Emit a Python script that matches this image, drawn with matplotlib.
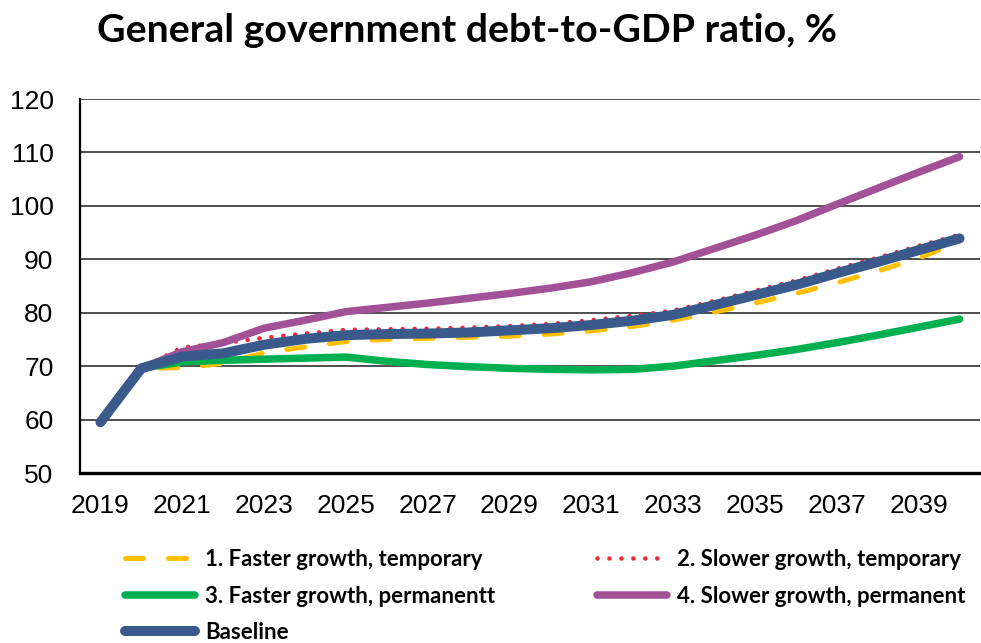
import matplotlib
matplotlib.use("Agg")
import matplotlib.pyplot as plt
import numpy as np

# data
years = list(range(2019, 2041))
faster_temp = [59.5, 69.6, 69.7, 70.5, 72.5, 73.6, 74.6, 75.0, 75.2, 75.4, 75.6,
               76.0, 76.6, 77.4, 78.6, 80.1, 81.8, 83.6, 85.6, 87.8, 90.2, 93.3]
slower_temp = [59.5, 69.6, 73.5, 74.3, 75.3, 76.1, 76.8, 76.9, 77.0, 77.2, 77.5,
               77.9, 78.6, 79.4, 80.4, 82.2, 84.1, 86.0, 88.2, 90.3, 92.5, 94.6]
faster_perm = [59.5, 69.6, 70.8, 71.1, 71.3, 71.5, 71.7, 70.9, 70.3, 69.9, 69.6,
               69.4, 69.3, 69.4, 70.0, 71.0, 72.0, 73.1, 74.4, 75.8, 77.3, 78.8]
slower_perm = [59.5, 69.6, 72.7, 74.4, 77.1, 78.6, 80.2, 81.0, 81.8, 82.7, 83.6,
               84.6, 85.8, 87.5, 89.5, 92.0, 94.5, 97.2, 100.3, 103.3, 106.3, 109.2]
baseline = [59.5, 69.6, 71.8, 72.4, 74.0, 75.1, 75.8, 76.0, 76.1, 76.3, 76.7,
            77.1, 77.7, 78.5, 79.6, 81.4, 83.3, 85.2, 87.4, 89.5, 91.7, 93.9]

labels = ["1. Faster growth, temporary", "2. Slower growth, temporary",
          "3. Faster growth, permanentt", "4. Slower growth, permanent", "Baseline"]

x = np.arange(len(years))

fig = plt.figure(figsize=(9.81, 6.43), dpi=100)
ax = fig.add_axes([80 / 981, 1 - 473 / 643, 900 / 981, 374 / 643])

l1, = ax.plot(x, faster_temp, color="#FFC000", lw=3.6, ls=(0, (3.6, 5)),
              dash_capstyle="round", label=labels[0])
l2, = ax.plot(x, slower_temp, color="#EE2A3C", lw=3.3, ls=(0, (0.01, 2.6)),
              dash_capstyle="round", label=labels[1])
l3, = ax.plot(x, faster_perm, color="#00B050", lw=5.4, solid_capstyle="round",
              label=labels[2])
l4, = ax.plot(x, slower_perm, color="#A35197", lw=5.4, solid_capstyle="round",
              label=labels[3])
lb, = ax.plot(x, baseline, color="#3A5A8C", lw=7.2, solid_capstyle="round",
              solid_joinstyle="round", label=labels[4])

ax.set_xlim(-0.5, len(years) - 0.5)
ax.set_ylim(50, 120)
ax.set_yticks(range(50, 121, 10))
ax.set_xticks(x[::2])
ax.set_xticklabels([str(y) for y in years[::2]])
ax.yaxis.grid(True, color="#404040", lw=1.3)
ax.set_axisbelow(True)
for s in ["right", "top"]:
    ax.spines[s].set_visible(False)
ax.spines["left"].set_linewidth(1.6)
ax.spines["bottom"].set_linewidth(2.4)
ax.tick_params(axis="both", length=0, labelsize=19, labelfontfamily="Liberation Sans")
ax.tick_params(axis="y", pad=19)
ax.tick_params(axis="x", pad=15)

fig.text(97 / 981, 1 - 42 / 643, "General government debt-to-GDP ratio, %",
         fontsize=28.3, fontweight="bold", family="Lato", va="baseline")

fig.legend([l1, l3, lb, l2, l4], [labels[0], labels[2], labels[4], labels[1], labels[3]],
           ncol=2, loc="upper left", bbox_to_anchor=(125 / 981, 1 - 549 / 643),
           frameon=False, prop={"family": "Lato", "weight": "bold", "size": 16},
           handlelength=3.15, handletextpad=0.45, columnspacing=4.6, labelspacing=0.7,
           borderpad=0, borderaxespad=0)

fig.savefig("out.png", dpi=100)
